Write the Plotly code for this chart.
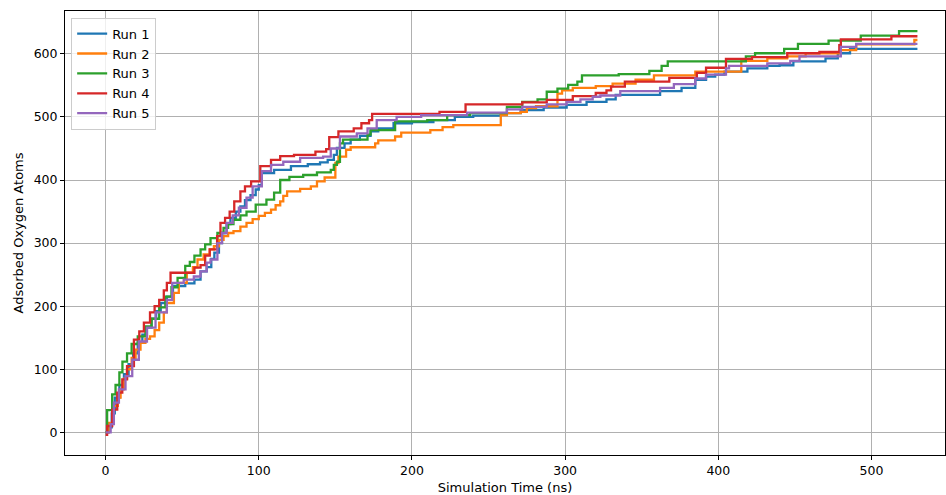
import plotly.graph_objects as go

# ---- data (step breakpoints) ----
run_names = ["Run 1", "Run 2", "Run 3", "Run 4", "Run 5"]
colors = ["#1f77b4", "#ff7f0e", "#2ca02c", "#d62728", "#9467bd"]

run1_t = [0, 2, 4, 6, 9, 12, 15, 18, 21, 24, 27, 30, 33, 36, 40, 44, 52, 58, 62, 66, 69, 71, 74, 76, 79, 81.5, 85, 88, 91, 94.6, 98, 100, 102, 110, 121, 132, 140, 145, 149, 151, 156, 160, 166, 173, 178, 188, 200, 214, 228, 240, 258, 271, 286, 301, 314, 327, 333, 362, 376, 385, 392, 398, 404, 419, 432, 440, 449, 470, 478, 486, 530]
run1_y = [0, 8, 30, 55, 75, 92, 108, 125, 142, 155, 166, 180, 192, 205, 215, 232, 236, 242, 255, 262, 275, 285, 300, 316, 330, 340, 350, 358, 368, 376, 385, 392, 411, 416, 422, 425, 428, 432, 440, 451, 458, 464, 470, 477, 482, 490, 492, 495, 500, 502, 506, 511, 515, 519, 524, 528, 535, 541, 546, 559, 564, 567, 572, 577, 581, 582, 588, 593, 601, 608, 608]

run2_t = [0, 2, 5.4, 8, 9.8, 12, 14, 17, 19.6, 22.8, 26, 29, 32, 35, 38, 40, 44.6, 47.8, 53, 57, 60, 64, 68, 70.7, 74, 77, 80, 83.5, 88, 92, 96, 100, 104, 108, 111, 114, 116, 118.5, 127, 134, 138, 143, 150, 152, 157, 160, 176, 178, 189, 193, 212, 220, 227, 258, 262, 271, 275, 281, 295, 298, 305, 320, 331, 346, 358, 385, 415, 432, 445, 457, 480, 490, 528, 530]
run2_y = [0, 15, 42, 55, 68, 85, 100, 118, 131, 142, 148, 152, 162, 174, 190, 205, 221, 237, 253, 262, 274, 282, 290, 295, 305, 311, 316, 319, 326, 332, 338, 343, 348, 353, 360, 366, 375, 382, 386, 390, 398, 404, 427, 437, 448, 452, 458, 463, 469, 475, 479, 484, 487, 503, 506, 508, 514, 517, 537, 542, 546, 549, 553, 559, 566, 572, 589, 593, 596, 601, 606, 615, 622, 622]

run3_t = [0, 1, 4.3, 6.5, 9, 11, 14, 17, 21, 26, 30, 35, 39, 43, 47, 52, 55, 58, 62, 65, 68.5, 73, 77, 80, 83.5, 88, 92, 98, 105, 110, 114, 120, 129, 138, 147, 149, 151, 153, 155, 171, 173, 189, 210, 223, 238, 262, 272, 282, 288, 295, 302, 308, 311, 335, 355, 363, 367, 418, 424, 443, 452, 472, 493, 518, 530]
run3_y = [0, 35, 60, 75, 95, 112, 125, 140, 152, 168, 180, 198, 215, 230, 245, 264, 270, 280, 290, 298, 308, 316, 324, 330, 337, 344, 350, 361, 369, 380, 400, 405, 408, 412, 416, 424, 429, 458, 464, 472, 479, 493, 495, 503, 506, 516, 524, 528, 540, 545, 551, 556, 566, 568, 573, 581, 588, 596, 601, 608, 616, 621, 629, 636, 636]

run4_t = [0, 1, 4.3, 7.6, 10.9, 14, 18.5, 22, 25, 29, 32, 35, 38, 40, 42.4, 55.4, 58, 62, 65, 68, 72.8, 75, 78, 81, 84, 88, 91, 95, 101, 108, 114, 123, 137, 144, 146, 152, 162, 167, 172, 174, 218, 235, 272, 288, 305, 320, 327, 330, 339, 368, 386, 392, 405, 422, 445, 466, 479, 480, 513, 530]
run4_y = [-4, 10, 36, 63, 84, 105, 147, 160, 174, 190, 200, 210, 225, 237, 253, 253, 261, 265, 280, 290, 311, 332, 340, 350, 366, 382, 390, 398, 422, 432, 438, 440, 445, 449, 468, 477, 482, 490, 495, 505, 508, 520, 523, 527, 533, 538, 542, 548, 556, 562, 570, 578, 592, 595, 601, 603, 614, 623, 628, 628]

run5_t = [0, 3.3, 5.4, 8.7, 13, 17.4, 21.7, 27, 32.6, 40, 43.5, 51, 57.6, 62, 66, 68.5, 73, 76, 79, 83, 87, 92, 96, 102, 108, 116, 127, 142, 147, 153, 164, 171, 177, 190, 206, 236, 262, 272, 288, 301, 310, 318, 323, 336, 362, 371, 385, 392, 405, 407, 432, 447, 453, 480, 490, 530]
run5_y = [0, 13, 47, 68, 89, 115, 144, 166, 190, 210, 237, 242, 247, 255, 269, 274, 300, 316, 332, 344, 356, 372, 390, 414, 424, 429, 435, 437, 450, 469, 474, 482, 495, 500, 503, 507, 512, 516, 520, 524, 528, 532, 534, 541, 546, 552, 561, 567, 577, 581, 585, 589, 596, 611, 616, 616]

x_ticks = [0, 100, 200, 300, 400, 500]
y_ticks = [0, 100, 200, 300, 400, 500, 600]

runs_t = [run1_t, run2_t, run3_t, run4_t, run5_t]
runs_y = [run1_y, run2_y, run3_y, run4_y, run5_y]

fig = go.Figure()
for name, col, t, y in zip(run_names, colors, runs_t, runs_y):
    assert len(t) == len(y), name
    fig.add_trace(go.Scatter(x=t, y=y, name=name, mode="lines",
                             line=dict(color=col, width=2.3, shape="hv")))

axis_common = dict(
    showgrid=True, gridcolor="#b0b0b0", gridwidth=0.8,
    showline=True, linecolor="black", linewidth=1, mirror=True,
    ticks="outside", ticklen=4, tickcolor="black", tickwidth=1,
    zeroline=False, tickfont=dict(family="DejaVu Sans", size=12.5, color="black"),
    title_font=dict(family="DejaVu Sans", size=13, color="black"),
)

fig.update_xaxes(range=[-26.5, 548], tickvals=x_ticks, title_text="Simulation Time (ns)",
                 title_standoff=5, **axis_common)
fig.update_yaxes(range=[-36, 668], tickvals=y_ticks, title_text="Adsorbed Oxygen Atoms",
                 title_standoff=7, **axis_common)

fig.update_layout(
    width=946, height=495,
    margin=dict(l=65, r=1, t=11, b=40),
    paper_bgcolor="white", plot_bgcolor="white",
    font=dict(family="DejaVu Sans", size=12, color="black"),
    legend=dict(x=0.007, y=0.985, xanchor="left", yanchor="top",
                bgcolor="rgba(255,255,255,0.8)", bordercolor="#cccccc", borderwidth=1,
                font=dict(family="DejaVu Sans", size=13, color="black"),
                tracegroupgap=0, itemwidth=30),
    showlegend=True,
)

fig.write_html("out.html")
